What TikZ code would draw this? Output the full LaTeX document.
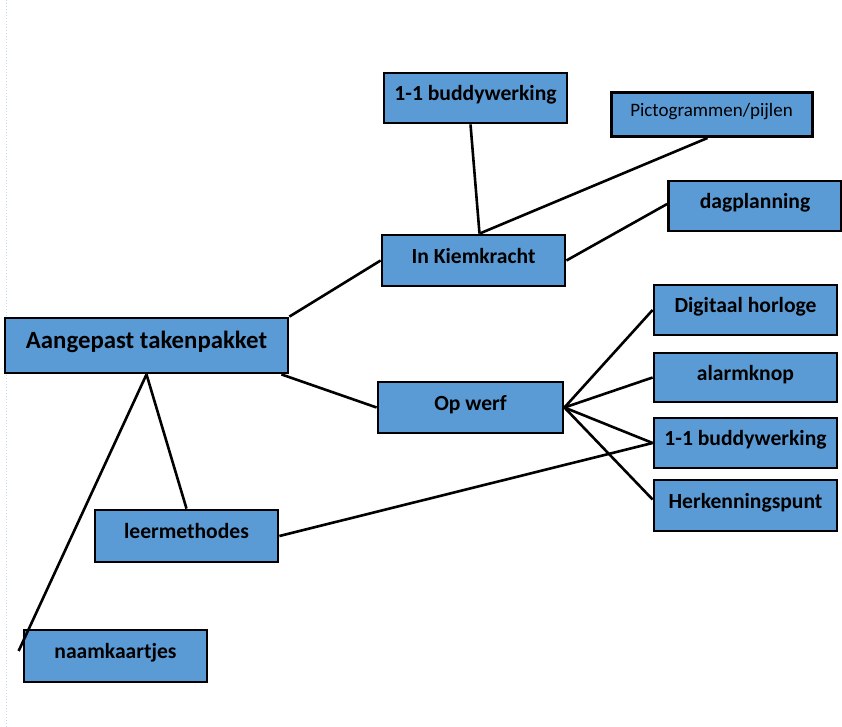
\documentclass[tikz,border=0pt]{standalone}
\usepackage{fontspec}
\setmainfont{Carlito}
\usetikzlibrary{shadows}
\definecolor{boxblue}{HTML}{5B9BD5}
\definecolor{guideblue}{HTML}{C4DAF4}
\begin{document}
\begin{tikzpicture}[x=1pt,y=-1pt,
  box/.style={draw=black,line width=2.8pt,fill=boxblue,inner sep=0pt,
    text height=10pt,text depth=5pt,
    minimum width=183pt,minimum height=50pt,font=\fontsize{21.6}{24}\selectfont\bfseries},
  link/.style={draw=black,line width=2.6pt}]
\useasboundingbox (0,0) rectangle (842,727);
\draw[guideblue,dotted,line width=1pt] (6,0) -- (6,727);
\node[box,minimum width=283pt,minimum height=55pt,font=\fontsize{24.8}{28}\selectfont\bfseries] (main) at (146.5,345.5) {Aangepast takenpakket};
\node[box,minimum height=51pt] (kiem) at (473.5,260.5) {In Kiemkracht};
\node[box] (buddyA) at (475.5,98) {1-1 buddywerking};
\node[box,minimum width=201pt,minimum height=44pt,line width=3pt,font=\fontsize{19}{22}\selectfont,
  text height=9pt,text depth=4pt,
  drop shadow={shadow xshift=1.5pt,shadow yshift=-1.5pt,fill=black,opacity=1}] (picto) at (711.5,114.5) {Pictogrammen/pijlen};
\node[box,minimum width=173pt] (dag) at (755,206) {dagplanning};
\node[box] (dig) at (745.5,310) {Digitaal horloge};
\node[box,minimum height=49pt] (alarm) at (745.5,377.5) {alarmknop};
\node[box] (buddyB) at (745.5,443) {1-1 buddywerking};
\node[box,minimum height=51pt] (herk) at (745.5,505.5) {Herkenningspunt};
\node[box,minimum width=185pt,minimum height=51pt] (werf) at (470.5,407.5) {Op werf};
\node[box,minimum height=52pt] (leer) at (186.5,536) {leermethodes};
\node[box,minimum height=52pt] (naam) at (115.5,656) {naamkaartjes};
\draw[link] (main.north east) -- (kiem.west);
\draw[link] ([xshift=-8pt]main.south east) -- (werf.west);
\draw[link] ([xshift=6pt]kiem.north) -- ([xshift=-5pt]buddyA.south);
\draw[link] ([xshift=6pt]kiem.north) -- ([xshift=-4pt]picto.south);
\draw[link] (kiem.east) -- ([yshift=2pt]dag.west);
\draw[link] (werf.east) -- (dig.west);
\draw[link] (werf.east) -- (alarm.west);
\draw[link] (werf.east) -- (buddyB.west);
\draw[link] (werf.east) -- ([yshift=6pt]herk.west);
\draw[link] (leer.east) -- (buddyB.west);
\draw[link] (main.south) -- (leer.north);
\draw[link] (main.south) -- ([xshift=-4pt,yshift=5pt]naam.west);
\end{tikzpicture}
\end{document}
